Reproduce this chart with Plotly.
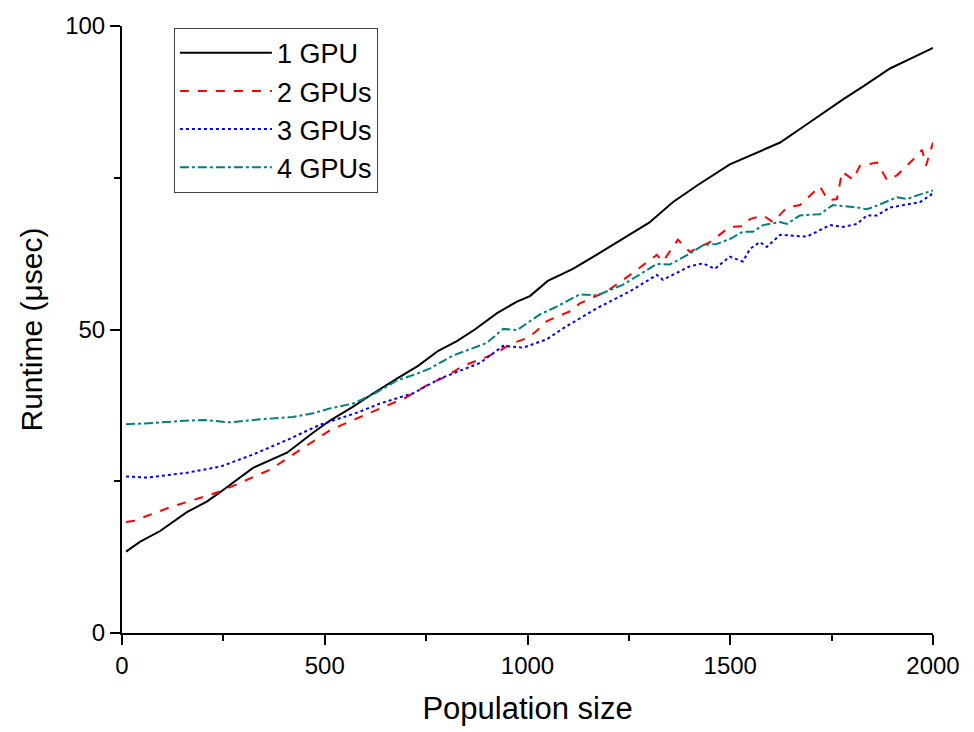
import plotly.graph_objects as go

# ---- data ----
x1 = [10, 44, 94, 160, 210, 242, 323, 407, 471, 513, 570, 620, 678, 730, 780, 826, 870, 925, 974, 1006,
      1050, 1112, 1170, 1253, 1300, 1359, 1420, 1499, 1544, 1623, 1680, 1738, 1780, 1827, 1894, 1950, 2000]
y1 = [13.4, 15.0, 16.8, 19.9, 21.7, 23.2, 27.2, 29.7, 33.0, 35.0, 37.3, 39.5, 41.9, 44.0, 46.5, 48.1, 50.0,
      52.7, 54.6, 55.5, 58.0, 60.0, 62.3, 65.6, 67.6, 71.0, 73.8, 77.2, 78.5, 80.8, 83.4, 86.1, 88.0, 90.0,
      93.0, 94.8, 96.4]

x2 = [10, 30, 118, 242, 365, 513, 560, 636, 700, 760, 800, 841, 900, 932, 957, 1000, 1023, 1048, 1105,
      1129, 1196, 1253, 1295, 1319, 1334, 1371, 1400, 1450, 1499, 1531, 1549, 1581, 1605, 1640, 1672, 1721,
      1741, 1763, 1776, 1803, 1820, 1862, 1887, 1911, 1951, 1973, 1983, 2000]
y2 = [18.3, 18.5, 20.7, 23.3, 26.9, 33.4, 34.8, 37.0, 38.8, 41.1, 42.3, 44.0, 45.5, 46.5, 47.6, 48.6, 49.8,
      51.4, 53.0, 54.3, 56.3, 59.0, 61.2, 62.3, 61.2, 64.8, 62.8, 64.4, 66.9, 67.0, 68.2, 68.8, 67.7, 70.1,
      70.5, 73.6, 71.3, 71.5, 76.0, 74.7, 77.0, 77.5, 74.6, 75.4, 78.0, 79.6, 77.0, 80.8]

x3 = [10, 62, 160, 242, 323, 407, 488, 530, 580, 636, 718, 784, 883, 940, 989, 1048, 1088, 1171, 1253,
      1319, 1334, 1400, 1433, 1462, 1499, 1531, 1549, 1573, 1590, 1623, 1689, 1746, 1778, 1813, 1837, 1862,
      1894, 1936, 1968, 1993, 2000]
y3 = [25.8, 25.6, 26.4, 27.4, 29.4, 31.8, 34.3, 35.2, 36.3, 37.8, 39.5, 41.9, 44.5, 47.3, 47.0, 48.4, 50.2,
      53.5, 56.3, 59.0, 58.2, 60.4, 60.9, 60.0, 62.0, 61.2, 63.3, 64.4, 63.6, 65.6, 65.3, 67.2, 66.9, 67.4,
      68.8, 68.8, 70.1, 70.6, 71.0, 72.1, 72.5]

x4 = [10, 77, 136, 200, 266, 340, 422, 471, 513, 570, 619, 678, 727, 760, 816, 900, 940, 974, 1031, 1073,
      1129, 1171, 1236, 1319, 1351, 1400, 1433, 1467, 1499, 1531, 1556, 1581, 1623, 1640, 1672, 1721, 1753,
      1813, 1837, 1869, 1911, 1936, 1961, 2000]
y4 = [34.4, 34.6, 34.9, 35.1, 34.7, 35.2, 35.6, 36.2, 37.0, 37.8, 39.3, 41.6, 42.7, 43.6, 45.7, 47.8, 50.1,
      49.9, 52.5, 53.8, 55.8, 55.6, 57.4, 60.8, 60.7, 62.5, 63.9, 64.1, 64.9, 66.1, 66.1, 67.2, 67.7, 67.4,
      68.8, 69.0, 70.5, 70.1, 69.8, 70.6, 71.8, 71.5, 72.1, 72.9]

series = [
    ("1 GPU", x1, y1, "#000000", "solid"),
    ("2 GPUs", x2, y2, "#FF0000", "dash"),
    ("3 GPUs", x3, y3, "#0000FF", "dot"),
    ("4 GPUs", x4, y4, "#008080", "dashdot"),
]

FONT = "Liberation Sans, Arial, sans-serif"

fig = go.Figure()
for name, xs, ys, col, dash in series:
    fig.add_trace(go.Scatter(x=xs, y=ys, mode="lines", name=name,
                             line=dict(color=col, width=2, dash=dash)))

axis_common = dict(
    showline=True, linecolor="black", linewidth=2, mirror=False,
    ticks="outside", ticklen=10, tickwidth=2, tickcolor="black",
    showgrid=False, zeroline=False,
    tickfont=dict(family=FONT, size=24, color="black"),
)

fig.update_layout(
    width=974, height=732,
    margin=dict(l=122, r=41, t=22, b=97),
    paper_bgcolor="white", plot_bgcolor="white",
    font=dict(family=FONT, color="black"),
    xaxis=dict(range=[0, 2000], tickvals=[0, 500, 1000, 1500, 2000],
               minor=dict(tickvals=[250, 750, 1250, 1750], ticklen=6, tickwidth=2,
                          tickcolor="black", ticks="outside"),
               title=dict(text="Population size", font=dict(family=FONT, size=31), standoff=20),
               **axis_common),
    yaxis=dict(range=[0, 100], tickvals=[0, 50, 100],
               minor=dict(tickvals=[25, 75], ticklen=6, tickwidth=2,
                          tickcolor="black", ticks="outside"),
               title=dict(text="Runtime (μsec)", font=dict(family=FONT, size=30), standoff=14),
               **axis_common),
    legend=dict(x=0.064, y=0.997, xanchor="left", yanchor="top",
                bordercolor="#444444", borderwidth=1, bgcolor="white",
                font=dict(family=FONT, size=27, color="black"),
                itemwidth=92, tracegroupgap=0),
    showlegend=True,
)

fig.write_html("out.html")
